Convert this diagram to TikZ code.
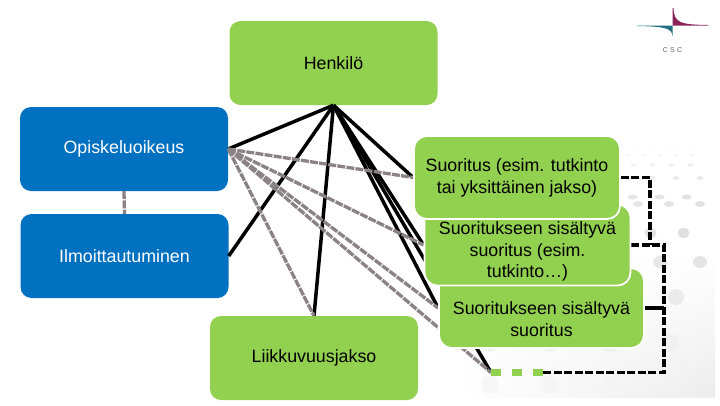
\documentclass[tikz,border=0pt]{standalone}
\usepackage{fontspec}
\usetikzlibrary{fadings}
\setmainfont{Liberation Sans}
\definecolor{bluebox}{HTML}{0070C0}
\definecolor{greenbox}{HTML}{92D050}
\definecolor{dashgrey}{HTML}{8A8284}
\definecolor{logoteal}{HTML}{1F6F80}
\definecolor{logomag}{HTML}{8A2458}
\tikzset{
  base/.style={rounded corners=11pt,minimum width=#1,align=center,font=\fontsize{17.8}{21.7}\selectfont,inner sep=0pt},
  bluenode/.style={base=208pt,minimum height=84pt,fill=bluebox,text=white},
  greennode/.style={base=208pt,minimum height=84pt,fill=greenbox,text=black},
  stacknode/.style={base=#1,rounded corners=13pt,minimum height=81pt,fill=greenbox,draw=white,line width=1.8pt},
  stacktext/.style={align=center,font=\fontsize{17.8}{21.7}\selectfont,inner sep=0pt,text=black},
  solidlink/.style={black,line width=3.5pt},
  greylink/.style={dashgrey,line width=3.3pt,dash pattern=on 8pt off 1.2pt},
  blacklink/.style={black,line width=3.5pt,dash pattern=on 8pt off 2.5pt},
  greenlink/.style={greenbox,line width=6.5pt,dash pattern=on 10pt off 11pt}
}
\begin{document}
\begin{tikzpicture}[x=1pt,y=-1pt]
\useasboundingbox (0,0) rectangle (720,405);
\fill[white] (0,0) rectangle (720,405);
% faint background
\shade[left color=white,right color=black!7,path fading=north] (460,260) rectangle (715,397);
\foreach \yy/\rx/\ry/\sh/\dx in {145/1.5/0.8/4/14,155/2/1/5/16,165/3/1.5/7/19,178/3.5/2/8/24,197/5/2.5/11/27,
  204/5/3/11/31,233/6/5/12/33,262/7/6/10/40,297/8/8/8/48,343/9/9/6/60,385/9/9/5/60}{
  \foreach \c in {0,...,9}{
    \pgfmathsetmacro{\xx}{700-\c*\dx-mod(\yy,2)*\dx/2}
    \pgfmathsetmacro{\fade}{max(2,\sh-\c*0.6)}
    \ifdim\xx pt>470pt
      \fill[black!\fade] (\xx,\yy) ellipse ({\rx} and {\ry});
    \fi
  }
}
% nodes
\node[greennode] (hen) at (333.5,63) {\raisebox{-1pt}{Henkilö}};
\node[bluenode] (opi) at (124,149) {Opiskeluoikeus};
\node[bluenode] (ilm) at (124.5,256) {\raisebox{-1pt}{Ilmoittautuminen}};
\node[greennode] (lii) at (314,358) {Liikkuvuusjakso};
\coordinate (low) at (491,372.5);
\coordinate (lowmid) at (543,372.5);
% stack nodes are placed first so the links can reach them
\node[stacknode=205pt,minimum height=80pt,draw=none,fill=none] (sit) at (541.5,308) {};
\node[stacknode=206pt,draw=none,fill=none] (sis) at (527.5,245) {};
\node[stacknode=206pt,minimum height=83pt,draw=none,fill=none] (suo) at (517,177.5) {};
% links from Henkilö
\foreach \t in {opi.east,ilm.east,lii.north,suo.west,sis.west,sit.west,low}
  \draw[solidlink] (hen.south) -- (\t);
% links from Opiskeluoikeus
\foreach \t in {lii.north,suo.west,sis.west,sit.west,low}
  \draw[greylink] (opi.east) -- (\t);
\draw[greylink] (opi.south) -- (ilm.north);
% right-hand dashed links
\coordinate (c1) at (650,177.5);
\coordinate (c2) at (650,245);
\coordinate (c3) at (664,245);
\coordinate (c4) at (664,308);
\coordinate (c5) at (664,372.5);
\draw[blacklink] (suo.east) -- (c1) -- (c2);
\draw[blacklink] (sis.east) -- (c3) -- (c5) -- (lowmid);
\draw[black,line width=3.5pt] (sit.east) -- (c4);
\draw[greenlink] (low) -- (lowmid);
% stacked boxes
\node[stacknode=205pt,minimum height=80pt] (sitb) at (sit) {};
\node[stacktext] (sittext) at (541.5,319) {Suoritukseen sisältyvä\\suoritus};
\node[stacknode=206pt] (sisb) at (sis) {};
\node[stacktext] (sistext) at (527.5,251.5) {Suoritukseen sisältyvä\\suoritus (esim.\\tutkinto…)};
\node[stacknode=206pt,minimum height=83pt] (suob) at (suo) {};
\node[stacktext] (suotext) at (517,178) {Suoritus (esim. tutkinto\\tai yksittäinen jakso)};
% logo
\coordinate (lc) at (672.5,25.5);
\coordinate (lt) at (672.5,8);
\coordinate (lr) at (708,25.5);
\coordinate (ll) at (637,25.5);
\coordinate (lb) at (672.5,36);
\fill[logomag] (lt) -- (lc) -- (lr) -- (708,25) .. controls (680,24.5) and (674,23) .. (673.5,8) -- cycle;
\fill[logoteal] (ll) -- (lc) -- (lb) .. controls (671.5,29) and (668,26.5) .. (637,26) -- cycle;
\node[font=\fontsize{7}{8}\selectfont,text=black!60,inner sep=0pt] (csc) at (672.5,50) {C\,\,S\,\,C};
\end{tikzpicture}
\end{document}
